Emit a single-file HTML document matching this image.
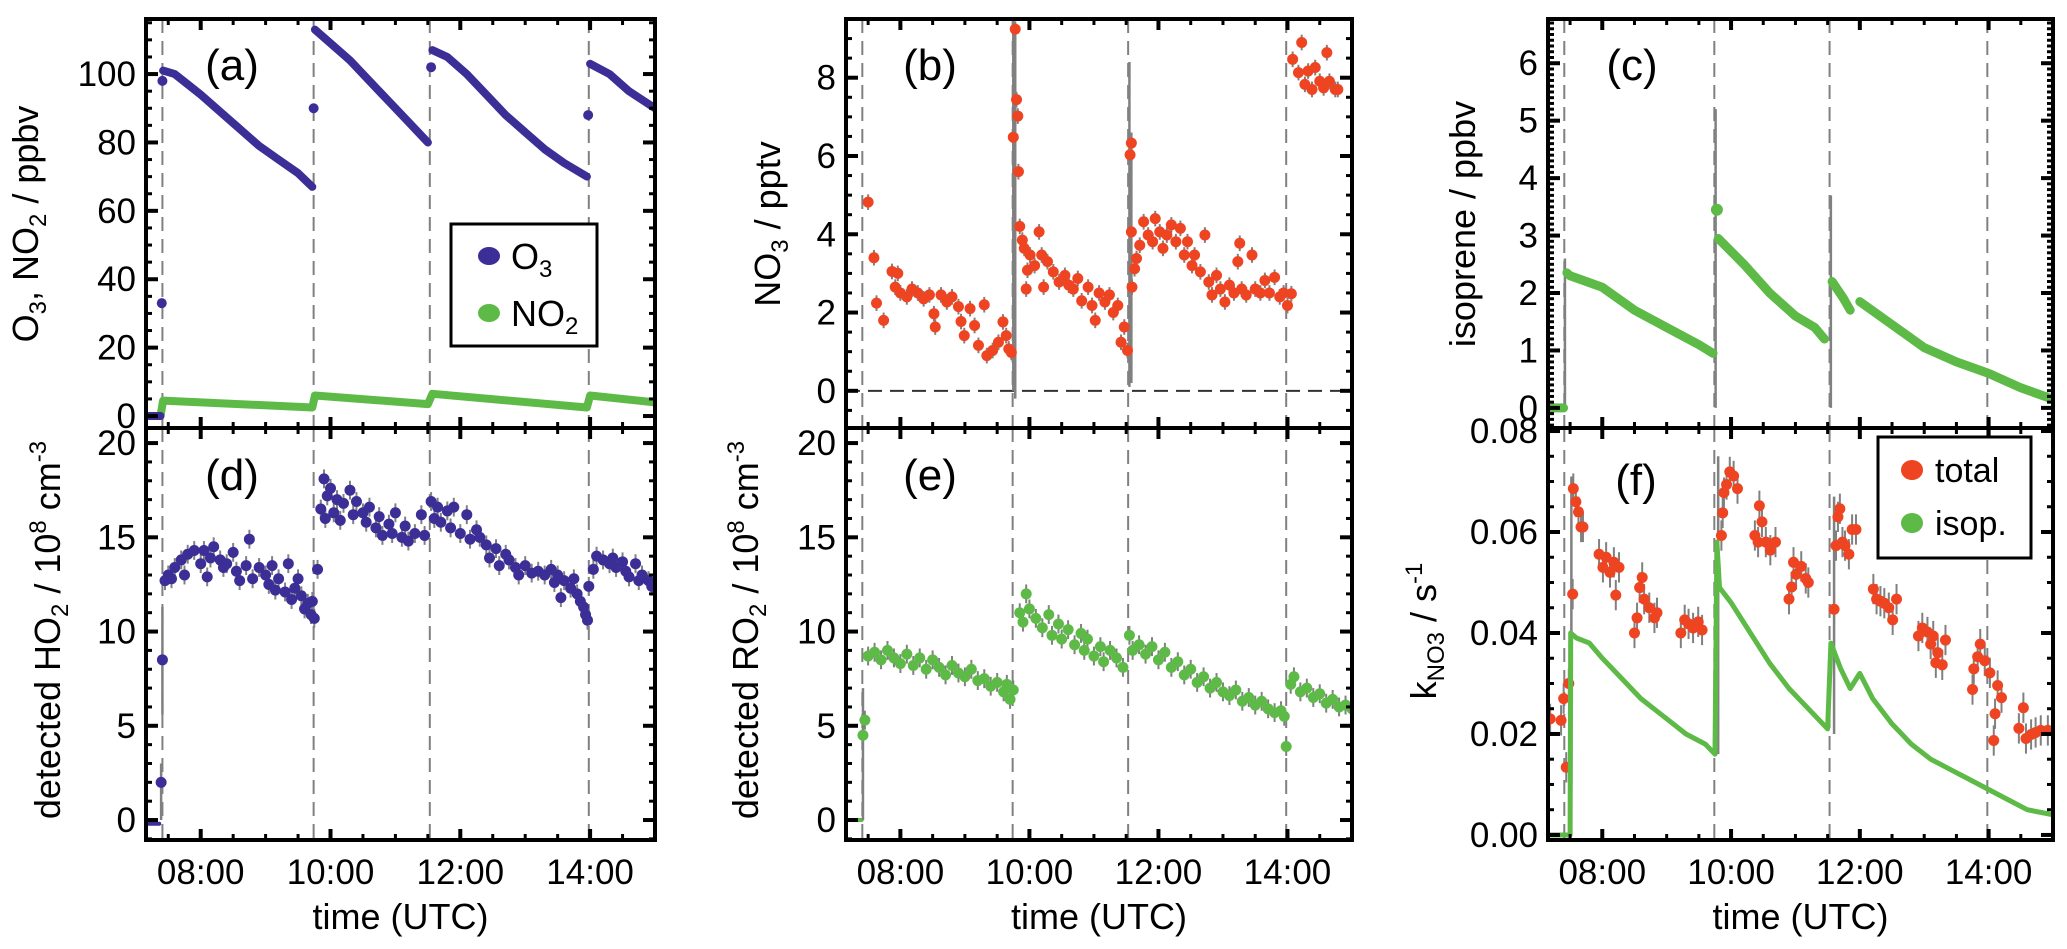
<!DOCTYPE html>
<html><head><meta charset="utf-8"><style>
html,body{margin:0;padding:0;background:#fff}
svg{display:block;font-family:"Liberation Sans",sans-serif}
</style></head><body>
<svg id="fig" width="2067" height="949" viewBox="0 0 2067 949"></svg>
<script>
// ---- data ----
const xTickHours=[8,10,12,14];
const xTickLabels=["08:00","10:00","12:00","14:00"];
const eventTimes=[7.41,9.74,11.53,13.98];

const o3T=[7.16,7.38,null,7.42,7.6,7.8,8.0,8.3,8.6,8.9,9.2,9.5,9.72,null,9.76,10.0,10.3,10.6,10.9,11.2,11.5,null,11.57,11.8,12.1,12.4,12.7,13.0,13.3,13.6,13.95,null,14.0,14.3,14.6,15.0];
const o3V=[0,0,null,101,100,97,94,89,84,79,75,71,67,null,113,109,104,98,92,86,80,null,107,105,100,94,88,83,78,74,70,null,103,100,95,90];
const o3OutT=[7.40,7.41,9.74,11.55,13.97];
const o3OutV=[33,98,90,102,88];
const no2T=[7.16,7.38,7.42,9.72,9.76,11.5,11.57,13.95,14.0,15.0];
const no2V=[0,0,4.5,2.5,6,3.5,6.5,2.5,6,4];

const no3T=[7.5,7.59,7.63,7.74,7.87,7.96,7.92,8.0,8.1,8.18,8.27,8.36,8.45,8.52,8.54,8.63,8.72,8.8,8.9,8.94,8.99,9.08,9.15,9.21,9.3,9.34,9.43,9.52,9.59,9.64,9.68,9.72,9.75,9.78,9.8,9.82,9.83,9.85,9.89,9.92,9.95,9.97,10.01,10.08,10.15,10.19,10.22,10.28,10.37,10.46,10.55,10.61,10.68,10.75,10.81,10.91,10.97,11.02,11.08,11.17,11.24,11.3,11.37,11.42,11.47,11.52,11.56,11.58,11.58,11.59,11.63,11.66,11.71,11.77,11.84,11.91,11.95,12.02,12.07,12.13,12.2,12.27,12.34,12.4,12.45,12.52,12.56,12.65,12.72,12.78,12.83,12.9,12.96,13.03,13.1,13.17,13.23,13.26,13.29,13.36,13.45,13.5,13.58,13.65,13.72,13.8,13.88,13.94,14.0,14.06,14.08,14.17,14.22,14.27,14.32,14.38,14.43,14.5,14.56,14.61,14.65,14.74,14.78];
const no3V=[4.82,3.4,2.24,1.8,3.05,3.0,2.65,2.5,2.4,2.6,2.5,2.35,2.45,1.97,1.63,2.45,2.27,2.4,2.15,1.77,1.41,2.1,1.67,1.16,2.2,0.9,1.03,1.24,1.76,1.41,1.07,0.98,6.48,9.24,7.44,7.02,5.6,4.2,3.85,3.64,2.6,3.08,3.47,3.2,4.06,3.47,2.65,3.3,3.04,2.78,2.95,2.7,2.6,2.87,2.3,2.65,2.18,1.8,2.5,2.27,2.45,2.0,2.18,1.24,1.63,1.03,6.03,6.33,4.06,2.65,3.12,3.38,3.72,4.32,3.98,3.81,4.4,4.06,3.64,3.98,4.24,3.81,4.15,3.47,3.81,3.2,3.47,3.04,3.98,2.78,2.45,2.95,2.6,2.27,2.7,2.5,3.3,3.77,2.6,2.45,3.47,2.6,2.5,2.82,2.5,2.9,2.4,2.5,2.18,2.48,8.47,8.13,8.9,7.83,8.17,7.7,8.26,7.91,7.74,8.64,7.91,7.7,7.7];
const no3SpikeT=[9.75,9.78,11.55,11.58];
const no3SpikeLo=[0,-0.2,0.1,0.2];
const no3SpikeHi=[9.5,9.4,8.4,6.6];

const isoT=[7.16,7.4,null,7.45,7.5,8.0,8.5,9.0,9.5,9.72,null,9.8,10.2,10.6,11.0,11.3,11.45,null,11.57,11.75,11.85,null,12.0,12.5,13.0,13.5,14.0,14.5,15.0];
const isoV=[0,0,null,2.35,2.3,2.1,1.7,1.4,1.1,0.95,null,2.95,2.5,2.0,1.6,1.4,1.2,null,2.2,1.9,1.7,null,1.85,1.45,1.05,0.8,0.6,0.35,0.15];
const isoOutT=[9.78];
const isoOutV=[3.45];
const isoSpikeT=[7.42,9.76,11.55];
const isoSpikeLo=[0,0,0];
const isoSpikeHi=[2.6,5.2,3.7];

const ho2T=[7.39,7.41,7.45,7.5,7.55,7.6,7.7,7.75,7.8,7.9,8.0,8.05,8.1,8.15,8.2,8.3,8.35,8.4,8.5,8.55,8.6,8.7,8.75,8.8,8.9,9.0,9.05,9.1,9.15,9.2,9.3,9.35,9.4,9.45,9.5,9.55,9.6,9.65,9.7,9.72,9.75,9.8,9.85,9.9,9.92,9.95,10.0,10.05,10.1,10.15,10.2,10.3,10.35,10.4,10.5,10.55,10.6,10.7,10.75,10.8,10.9,10.95,11.0,11.1,11.15,11.2,11.3,11.4,11.45,11.55,11.6,11.65,11.7,11.8,11.85,11.9,12.0,12.1,12.15,12.25,12.3,12.4,12.45,12.55,12.6,12.7,12.75,12.85,12.9,13.0,13.1,13.2,13.3,13.4,13.45,13.5,13.55,13.6,13.7,13.75,13.8,13.85,13.9,13.93,13.96,13.98,14.05,14.1,14.2,14.3,14.35,14.4,14.5,14.55,14.6,14.7,14.75,14.8,14.9,14.95];
const ho2V=[2.0,8.5,12.7,13.0,12.8,13.4,13.8,13.0,14.1,14.3,13.6,14.3,12.9,13.9,14.5,13.8,13.4,13.6,14.2,13.2,12.7,13.5,14.9,12.8,13.4,13.0,12.5,13.5,12.2,12.8,12.1,13.6,11.7,12.3,12.8,11.9,11.2,11.5,10.9,11.6,10.7,13.3,16.5,18.1,16.0,17.2,17.6,16.3,17.0,15.9,16.8,17.5,16.2,16.9,16.3,15.8,16.6,15.5,16.1,15.1,15.7,15.2,16.3,15.0,15.6,14.8,15.2,16.2,15.1,16.9,16.0,16.6,15.8,16.4,15.5,16.6,15.2,16.2,14.9,15.4,15.0,14.6,13.9,14.4,13.5,14.1,13.8,13.4,13.0,13.5,13.1,13.2,13.0,13.3,12.6,13.0,11.8,12.7,12.3,12.8,12.0,11.6,11.3,10.9,10.6,12.4,13.3,14.0,13.8,13.6,13.9,13.4,13.7,13.2,12.9,13.6,12.7,13.0,12.7,12.4];
const ho2BaseT=[7.16,7.36];
const ho2BaseV=[-0.2,-0.2];
const ho2SpikeT=[7.41,7.39];
const ho2SpikeLo=[5.6,0];
const ho2SpikeHi=[11.3,3];

const ro2T=[7.42,7.45,7.5,7.6,7.7,7.8,7.9,8.0,8.1,8.2,8.3,8.4,8.5,8.6,8.7,8.8,8.9,9.0,9.1,9.2,9.3,9.4,9.5,9.6,9.65,9.7,9.75,9.85,9.9,9.95,10.0,10.1,10.2,10.3,10.35,10.45,10.5,10.6,10.7,10.8,10.85,10.9,11.0,11.1,11.15,11.25,11.35,11.45,11.55,11.6,11.7,11.8,11.9,12.0,12.1,12.2,12.3,12.4,12.5,12.6,12.7,12.8,12.9,13.0,13.1,13.2,13.3,13.4,13.5,13.6,13.7,13.8,13.9,13.95,13.98,14.05,14.1,14.2,14.3,14.4,14.5,14.6,14.7,14.8,14.9,15.0];
const ro2V=[4.5,5.3,8.7,8.9,8.5,9.0,8.6,8.3,8.8,8.2,8.6,8.0,8.5,8.1,7.7,8.2,7.8,7.6,8.0,7.4,7.5,7.1,7.3,6.8,7.2,6.4,6.9,11.0,10.5,12.0,11.2,10.7,10.2,10.9,9.8,10.4,9.6,10.1,9.3,9.9,9.0,9.6,8.7,9.2,8.4,9.0,8.6,8.1,9.8,9.0,9.3,8.8,9.2,8.5,8.9,8.1,8.4,7.7,8.0,7.3,7.6,7.0,7.3,6.8,6.6,6.9,6.3,6.5,6.1,6.3,5.9,5.7,5.8,5.5,3.9,7.2,7.6,6.8,7.0,6.5,6.7,6.2,6.4,6.0,6.1,5.9];
const ro2BaseT=[7.16,7.4];
const ro2BaseV=[0,0];
const ro2SpikeT=[7.42];
const ro2SpikeLo=[0];
const ro2SpikeHi=[7];

const kIsoT=[7.16,7.5,7.51,7.6,7.8,8.0,8.3,8.6,9.0,9.3,9.6,9.75,9.78,9.82,10.0,10.3,10.6,10.9,11.2,11.5,11.55,11.7,11.85,12.0,12.2,12.5,12.8,13.1,13.4,13.7,14.0,14.3,14.6,15.0];
const kIsoV=[0,0,0.040,0.039,0.038,0.035,0.031,0.027,0.023,0.020,0.018,0.016,0.058,0.049,0.046,0.040,0.034,0.029,0.025,0.021,0.038,0.033,0.029,0.032,0.027,0.022,0.018,0.015,0.013,0.011,0.009,0.007,0.005,0.004];
const kTotT=[7.19,7.36,7.4,7.44,7.48,7.54,7.55,7.59,7.63,7.67,7.7,7.95,8.01,8.06,8.12,8.18,8.21,8.26,8.5,8.54,8.58,8.62,8.65,8.73,8.81,8.85,9.22,9.28,9.34,9.41,9.49,9.55,9.85,9.87,9.89,9.93,9.98,10.04,10.1,10.44,10.37,10.42,10.48,10.54,10.61,10.69,10.9,10.94,10.97,11.01,11.09,11.16,11.2,11.6,11.63,11.66,11.69,11.73,11.77,11.83,11.88,11.94,12.21,12.26,12.32,12.38,12.45,12.51,12.57,12.91,12.97,13.05,13.1,13.14,13.18,13.21,13.28,13.33,13.75,13.77,13.83,13.87,13.94,14.02,14.1,14.14,14.2,14.08,14.47,14.54,14.58,14.66,14.73,14.81,14.92];
const kTotV=[0.023,0.0227,0.027,0.0134,0.030,0.0477,0.0686,0.066,0.064,0.061,0.061,0.0556,0.053,0.055,0.052,0.054,0.0475,0.053,0.040,0.043,0.049,0.051,0.0467,0.045,0.043,0.044,0.040,0.0426,0.0418,0.041,0.0422,0.0406,0.0593,0.0638,0.0678,0.0694,0.0719,0.0711,0.0686,0.0652,0.0593,0.058,0.062,0.058,0.0564,0.058,0.0467,0.0491,0.054,0.0516,0.0532,0.0508,0.050,0.0447,0.0573,0.063,0.0646,0.058,0.0573,0.0556,0.0605,0.0605,0.0487,0.0467,0.0463,0.0459,0.045,0.0426,0.0467,0.0394,0.041,0.0402,0.0378,0.0394,0.0341,0.0361,0.0337,0.0386,0.0288,0.0329,0.0353,0.0378,0.0345,0.0321,0.024,0.0296,0.0272,0.0187,0.0211,0.0252,0.0191,0.0199,0.0203,0.0207,0.0207];
const kSpikeT=[7.52,9.8,11.6];
const kSpikeLo=[0.01,0.016,0.02];
const kSpikeHi=[0.071,0.075,0.067];

// ---- drawing ----
const NS="http://www.w3.org/2000/svg";
const svg=document.getElementById('fig');
const BLUE="#3b2e96",GREEN="#5dba47",RED="#ee4422",GREY="#808080";
const X0=7.157,X1=15.0;
function el(tag,attrs,parent){const e=document.createElementNS(NS,tag);for(const k in attrs)e.setAttribute(k,attrs[k]);(parent||svg).appendChild(e);return e;}

function panel(id,L,R,T,B,y0,y1,yMajor,yMinor,fmt,showX){
  const g=el('g',{});
  
  
  const sx=t=>L+(t-X0)/(X1-X0)*(R-L);
  const sy=v=>B-(v-y0)/(y1-y0)*(B-T);
  const data=el('g',{'clip-path':'url(#clip-'+id+')'},g);
  const cp=el('clipPath',{id:'clip-'+id},g);
  el('rect',{x:L,y:T,width:R-L,height:B-T},cp);
  eventTimes.forEach(t=>{
    const ln=el('line',{x1:sx(t),x2:sx(t),y1:T,y2:B,stroke:GREY,'stroke-width':2,'stroke-dasharray':'14,8'},data);
    
    
  });
  const tk=el('g',{stroke:'#000'},g);
  
  
  for(let t=7.5;t<=15.0001;t+=0.5){
    const maj=Math.abs(t-Math.round(t/2)*2)<1e-6;const len=maj?11:6;const w=maj?4:3;
    el('line',{x1:sx(t),x2:sx(t),y1:B,y2:B-len,'stroke-width':w},tk);
    el('line',{x1:sx(t),x2:sx(t),y1:T,y2:T+len,'stroke-width':w},tk);
  }
  const nMin=Math.round((y1-y0)/yMinor)+2;
  for(let i=-1;i<nMin;i++){
    const v=Math.ceil(y0/yMinor)*yMinor+i*yMinor;if(v<y0||v>y1)continue;
    const maj=Math.abs(v/yMajor-Math.round(v/yMajor))<1e-6;const len=maj?12:6;const w=maj?4:3;
    el('line',{x1:L,x2:L+len,y1:sy(v),y2:sy(v),'stroke-width':w},tk);
    el('line',{x1:R,x2:R-len,y1:sy(v),y2:sy(v),'stroke-width':w},tk);
    if(maj){
      const tx=el('text',{x:L-10,y:sy(v)+12,'text-anchor':'end','font-size':35},g);
      tx.textContent=fmt(v);
      
      
    }
  }
  if(showX){
    xTickHours.forEach((h,i)=>{
      const tx=el('text',{x:sx(h),y:884,'text-anchor':'middle','font-size':35},g);
      tx.textContent=xTickLabels[i];
      
      
    });
    const xt=el('text',{x:(L+R)/2,y:929,'text-anchor':'middle','font-size':36},g);
    xt.textContent='time (UTC)';
    
    
  }
  const fr=el('rect',{x:L,y:T,width:R-L,height:B-T,fill:'none',stroke:'#000','stroke-width':4},g);
  
  
  return {g,data,sx,sy};
}
function line(p,T,V,color,w,name){
  let d='',pen=false;
  for(let i=0;i<T.length;i++){
    if(T[i]===null){pen=false;continue;}
    d+=(pen?'L':'M')+p.sx(T[i]).toFixed(1)+' '+p.sy(V[i]).toFixed(1);pen=true;
  }
  const e=el('path',{d:d,fill:'none',stroke:color,'stroke-width':w,'stroke-linejoin':'round','stroke-linecap':'round'},p.data);
  
  
}
function dots(p,T,V,color,r,err,name){
  const g=el('g',{},p.data);
  
  
  for(let i=0;i<T.length;i++){
    if(err>0) el('line',{x1:p.sx(T[i]),x2:p.sx(T[i]),y1:p.sy(V[i]-err),y2:p.sy(V[i]+err),stroke:GREY,'stroke-width':2},g);
  }
  for(let i=0;i<T.length;i++){
    const c=el('circle',{cx:p.sx(T[i]),cy:p.sy(V[i]),r:r,fill:color},g);
    
    
  }
}
function spikes(p,T,LO,HI,name){
  for(let i=0;i<T.length;i++){
    const e=el('line',{x1:p.sx(T[i]),x2:p.sx(T[i]),y1:p.sy(LO[i]),y2:p.sy(HI[i]),stroke:GREY,'stroke-width':2.5},p.data);
    
    
  }
}
function label(x,y,txt,size,name){
  const t=el('text',{x:x,y:y,'text-anchor':'middle','font-size':size});
  t.textContent=txt;
  
  
}
function ytitle(cx,cy,parts,name){
  const t=el('text',{transform:'translate('+cx+','+cy+') rotate(-90)','text-anchor':'middle','font-size':36});
  
  
  parts.forEach(p=>{const s=el('tspan',{},t);s.textContent=p[0];
    if(p[1]==='sub'){s.setAttribute('font-size',24);s.setAttribute('dy',8);}
    else if(p[1]==='sup'){s.setAttribute('font-size',24);s.setAttribute('dy',-14);}
    else if(p[1]==='back'){s.setAttribute('dy',-8);}
    else if(p[1]==='down'){s.setAttribute('dy',14);}
  });
}
const f0=v=>String(Math.round(v));
const f2=v=>v.toFixed(2);

const AL=146,AR=655,BL=846,BR=1352,CL=1548,CR=2053;
// panel a
const pa=panel('a',AL,AR,19,428,-3.5,116.1,20,5,f0,false);
line(pa,no2T,no2V,GREEN,8,'no2-line');
line(pa,o3T,o3V,BLUE,8,'o3-line');
dots(pa,o3OutT,o3OutV,BLUE,5,0,'o3-outliers');
// panel d
const pd=panel('d',AL,AR,428,840,-1.06,20.8,5,1,f0,true);
line(pd,ho2BaseT,ho2BaseV,BLUE,4,'ho2-baseline');
spikes(pd,ho2SpikeT,ho2SpikeLo,ho2SpikeHi,'ho2-error-spike');
dots(pd,ho2T,ho2V,BLUE,5.5,0.5,'ho2-points');
// panel b
const pb=panel('b',BL,BR,19,428,-0.95,9.5,2,0.5,f0,false);
const zl=el('line',{x1:BL,x2:BR,y1:pb.sy(0),y2:pb.sy(0),stroke:'#333','stroke-width':2,'stroke-dasharray':'14,8'},pb.data);


spikes(pb,no3SpikeT,no3SpikeLo,no3SpikeHi,'no3-error-spike');
dots(pb,no3T,no3V,RED,5.5,0.2,'no3-points');
// panel e
const pe=panel('e',BL,BR,428,840,-1.06,20.8,5,1,f0,true);
line(pe,ro2BaseT,ro2BaseV,GREEN,4,'ro2-baseline');
spikes(pe,ro2SpikeT,ro2SpikeLo,ro2SpikeHi,'ro2-error-spike');
dots(pe,ro2T,ro2V,GREEN,5.5,0.5,'ro2-points');
// panel c
const pc=panel('c',CL,CR,19,428,-0.35,6.77,1,0.1,f0,false);
spikes(pc,isoSpikeT,isoSpikeLo,isoSpikeHi,'isoprene-error-spike');
line(pc,isoT,isoV,GREEN,9,'isoprene-line');
dots(pc,isoOutT,isoOutV,GREEN,6,0,'isoprene-outlier');
// panel f
const pf=panel('f',CL,CR,428,840,-0.001,0.0806,0.02,0.005,f2,true);
spikes(pf,kSpikeT,kSpikeLo,kSpikeHi,'k-error-spike');
dots(pf,kTotT,kTotV,RED,5.5,0.003,'k-total-points');
line(pf,kIsoT,kIsoV,GREEN,5,'k-isoprene-line');

// panel letters
label(232,80,'(a)',44,'panel-label-a');
label(232,490,'(d)',44,'panel-label-d');
label(930,80,'(b)',44,'panel-label-b');
label(930,490,'(e)',44,'panel-label-e');
label(1632,80,'(c)',44,'panel-label-c');
label(1636,495,'(f)',44,'panel-label-f');

// axis titles
ytitle(38,224,[['O'],['3','sub'],[', NO','back'],['2','sub'],[' / ppbv','back']],'y-axis-title-a');
ytitle(60,630,[['detected HO'],['2','sub'],[' / 10','back'],['8','sup'],[' cm','down'],['-3','sup']],'y-axis-title-b-d');
ytitle(780,224,[['NO'],['3','sub'],[' / pptv','back']],'y-axis-title-b');
ytitle(758,630,[['detected RO'],['2','sub'],[' / 10','back'],['8','sup'],[' cm','down'],['-3','sup']],'y-axis-title-e');
ytitle(1475,224,[['isoprene / ppbv']],'y-axis-title-c');
ytitle(1436,631,[['k'],['NO3','sub'],[' / s','back'],['-1','sup']],'y-axis-title-f');

// legend a
const la=el('g',{});


el('rect',{x:451,y:224,width:146,height:122,fill:'#fff',stroke:'#000','stroke-width':3},la);
el('ellipse',{cx:489,cy:256,rx:11,ry:9,fill:BLUE},la);
el('ellipse',{cx:489,cy:313,rx:11,ry:9,fill:GREEN},la);
const t1=el('text',{x:511,y:269,'font-size':36},la);t1.textContent='O';
const t1s=el('tspan',{'font-size':24,dy:8},t1);t1s.textContent='3';
const t2=el('text',{x:511,y:326,'font-size':36},la);t2.textContent='NO';
const t2s=el('tspan',{'font-size':24,dy:8},t2);t2s.textContent='2';




// legend f
const lf=el('g',{});


el('rect',{x:1878,y:437,width:153,height:121,fill:'#fff',stroke:'#000','stroke-width':3},lf);
el('ellipse',{cx:1912,cy:470,rx:11,ry:10,fill:RED},lf);
el('ellipse',{cx:1912,cy:523,rx:11,ry:10,fill:GREEN},lf);
const t3=el('text',{x:1935,y:482,'font-size':34},lf);t3.textContent='total';
const t4=el('text',{x:1935,y:535,'font-size':34},lf);t4.textContent='isop.';




</script>
</body></html>
